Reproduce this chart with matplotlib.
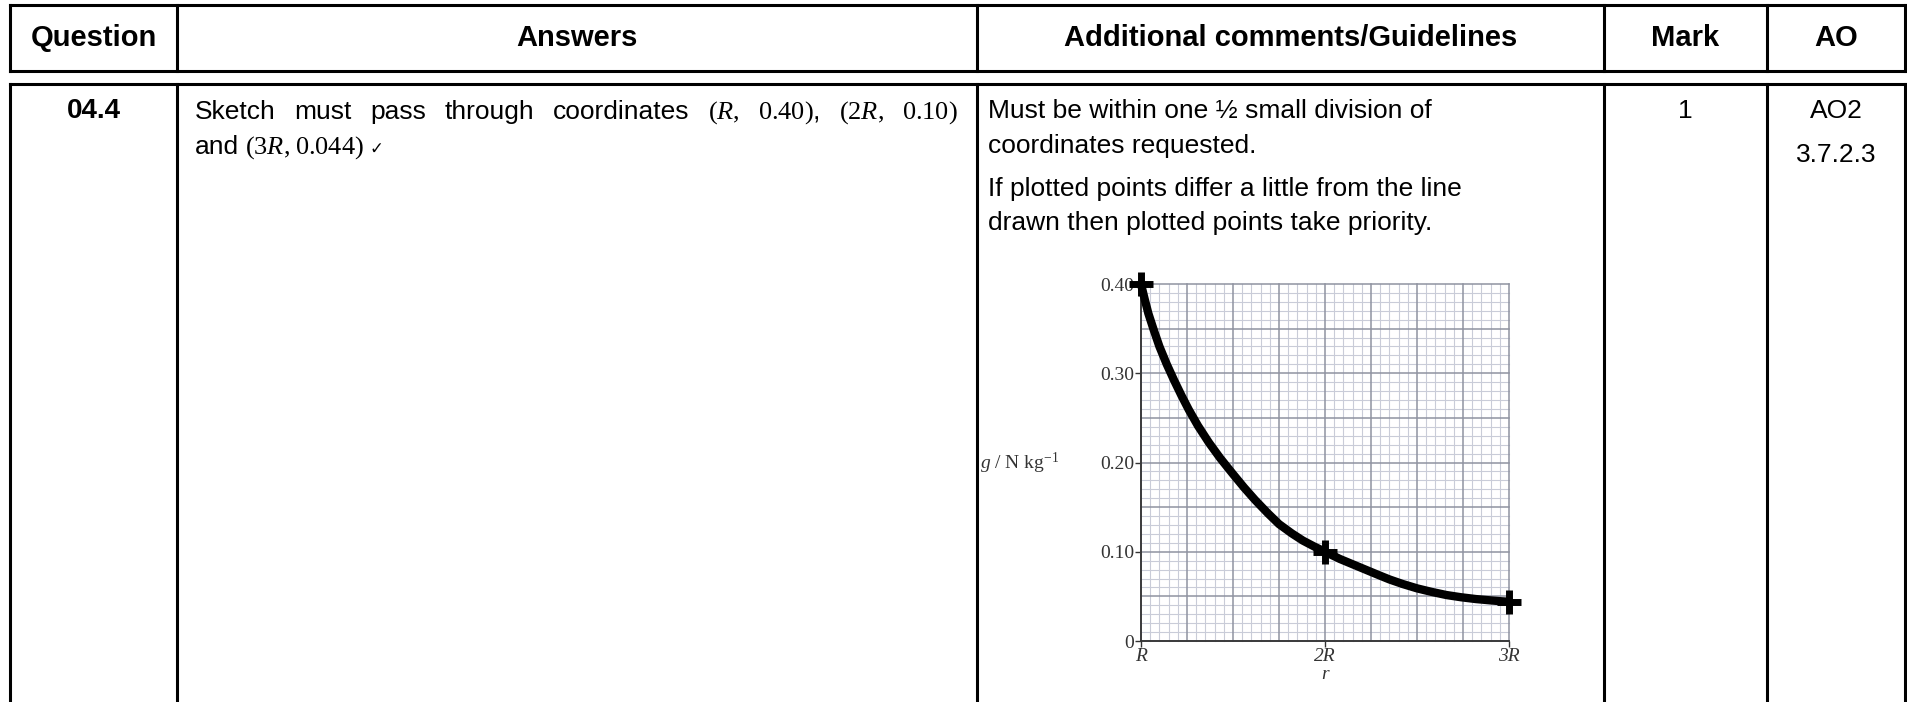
import matplotlib
matplotlib.use("Agg")
import matplotlib.pyplot as plt
from matplotlib.lines import Line2D
import numpy as np

FIG_W, FIG_H = 1908, 702
SANS = "Liberation Sans"
SERIF = "Liberation Serif"
BODY_SIZE = 19
HEAD_SIZE = 21
GRAPH_SIZE = 14
CHECK = "\u2713"

# table content
HEADERS = ["Question", "Answers", "Additional comments/Guidelines", "Mark", "AO"]
QUESTION = "04.4"
ANSWER_LINE_1 = ["Sketch", "must", "pass", "through", "coordinates",
                 r"$(R,$", r"$0.40)$,", r"$(2R,$", r"$0.10)$"]
ANSWER_LINE_2 = ["and", r"$(3R,$", r"$0.044)$", CHECK]
COMMENT_LINES = ["Must be within one \u00bd small division of",
                 "coordinates requested.",
                 "If plotted points differ a little from the line",
                 "drawn then plotted points take priority."]
MARK = "1"
AO_LINES = ["AO2", "3.7.2.3"]

# sketch (r in units of R, g in N/kg)
r_curve = [1.00, 1.02, 1.04, 1.07, 1.10, 1.14, 1.18, 1.22, 1.26, 1.31, 1.37, 1.43,
           1.50, 1.56, 1.62, 1.69, 1.75, 1.82, 1.88, 1.94, 2.00, 2.08, 2.15, 2.22,
           2.29, 2.35, 2.42, 2.50, 2.58, 2.66, 2.74, 2.82, 2.90, 2.96, 3.00]
g_curve = [0.400, 0.383, 0.367, 0.348, 0.330, 0.310, 0.292, 0.275, 0.259, 0.241, 0.222, 0.205,
           0.187, 0.172, 0.158, 0.143, 0.131, 0.1205, 0.1125, 0.106, 0.100, 0.092, 0.086, 0.080,
           0.074, 0.069, 0.064, 0.059, 0.055, 0.0515, 0.049, 0.047, 0.0455, 0.0445, 0.044]
r_points = [1, 2, 3]
g_points = [0.40, 0.10, 0.044]
y_ticks = [0, 0.10, 0.20, 0.30, 0.40]
y_tick_labels = ["0", "0.10", "0.20", "0.30", "0.40"]
x_ticks = [1, 2, 3]
x_tick_labels = ["R", "2R", "3R"]

plt.rcParams["mathtext.fontset"] = "custom"
plt.rcParams["mathtext.rm"] = SERIF
plt.rcParams["mathtext.it"] = SERIF + ":italic"
plt.rcParams["mathtext.bf"] = SERIF + ":bold"


def fx(x):
    return x / FIG_W


def fy(y):
    return 1 - y / FIG_H


def table_line(fig, x0, y0, x1, y1):
    fig.add_artist(Line2D([fx(x0), fx(x1)], [fy(y0), fy(y1)], transform=fig.transFigure,
                          color="black", lw=2.2, solid_capstyle="projecting"))


def place_words(fig, words, x_start, y_base, x_end=None, gap=6.0):
    # words laid out on one baseline; stretched to x_end when given (justified line)
    renderer = fig.canvas.get_renderer()
    items = []
    for word in words:
        if word == CHECK:
            items.append(fig.text(0, fy(y_base), word, family="DejaVu Sans", size=12,
                                  ha="left", va="baseline"))
        else:
            items.append(fig.text(0, fy(y_base), word, family=SANS, size=BODY_SIZE,
                                  ha="left", va="baseline"))
    widths = [t.get_window_extent(renderer).width for t in items]
    if x_end is not None:
        gap = (x_end - x_start - sum(widths)) / (len(words) - 1)
    x = x_start
    for t, w in zip(items, widths):
        t.set_x(fx(x))
        x += w + gap
    return items


fig = plt.figure(figsize=(FIG_W / 100, FIG_H / 100), dpi=100)

# table frame
COL_X = [10, 177, 977, 1604, 1767, 1905]
HEAD_TOP, HEAD_BOTTOM, BODY_TOP, BODY_BOTTOM = 5, 71, 84, 710
for y in (HEAD_TOP, HEAD_BOTTOM, BODY_TOP):
    table_line(fig, COL_X[0], y, COL_X[-1], y)
for x in COL_X:
    table_line(fig, x, HEAD_TOP, x, HEAD_BOTTOM)
    table_line(fig, x, BODY_TOP, x, BODY_BOTTOM)

for i, header in enumerate(HEADERS):
    fig.text(fx((COL_X[i] + COL_X[i + 1]) / 2), fy(38), header, family=SANS, weight="bold",
             size=HEAD_SIZE, ha="center", va="center")

fig.text(fx((COL_X[0] + COL_X[1]) / 2), fy(111), QUESTION, family=SANS, weight="bold",
         size=20, ha="center", va="center")

place_words(fig, ANSWER_LINE_1, 195, 119, x_end=958)
place_words(fig, ANSWER_LINE_2, 195, 154, gap=5.5)

for y, line in zip([111, 146, 189, 223], COMMENT_LINES):
    fig.text(fx(988), fy(y), line, family=SANS, size=BODY_SIZE, ha="left", va="center")

fig.text(fx((COL_X[3] + COL_X[4]) / 2), fy(111), MARK, family=SANS, size=BODY_SIZE,
         ha="center", va="center")
for y, line in zip([111, 155], AO_LINES):
    fig.text(fx((COL_X[4] + COL_X[5]) / 2), fy(y), line, family=SANS, size=BODY_SIZE,
             ha="center", va="center")

# graph
AX_L, AX_R, AX_T, AX_B = 1141, 1509, 284, 641
ax = fig.add_axes([fx(AX_L), fy(AX_B), (AX_R - AX_L) / FIG_W, (AX_B - AX_T) / FIG_H])
ax.set_xlim(1, 3)
ax.set_ylim(0, 0.40)

MINOR_GRID = "#c9ccd8"
MAJOR_GRID = "#8f93a1"
for xv in np.arange(1, 3.0001, 0.05):
    major = abs(xv / 0.25 - round(xv / 0.25)) < 1e-6
    ax.axvline(xv, color=MAJOR_GRID if major else MINOR_GRID, lw=1.1 if major else 0.8,
               zorder=2 if major else 1, clip_on=False)
for yv in np.arange(0, 0.4001, 0.01):
    major = abs(yv / 0.05 - round(yv / 0.05)) < 1e-6
    ax.axhline(yv, color=MAJOR_GRID if major else MINOR_GRID, lw=1.1 if major else 0.8,
               zorder=2 if major else 1, clip_on=False)

ax.plot(r_curve, g_curve, color="black", lw=6, solid_joinstyle="round",
        solid_capstyle="butt", zorder=5, clip_on=False)
ax.plot(r_points, g_points, ls="none", marker="+", ms=17, mew=5, color="black",
        zorder=6, clip_on=False)

for side in ("top", "right"):
    ax.spines[side].set_visible(False)
for side in ("left", "bottom"):
    ax.spines[side].set_color("#333333")
    ax.spines[side].set_linewidth(1.3)
    ax.spines[side].set_zorder(3)

ax.set_yticks(y_ticks)
ax.set_yticklabels(y_tick_labels, family=SERIF, size=GRAPH_SIZE, color="#333333")
ax.set_xticks(x_ticks)
ax.set_xticklabels(x_tick_labels, family=SERIF, style="italic", size=GRAPH_SIZE,
                   color="#333333")
ax.tick_params(length=4, width=1, color="#333333", pad=1)
ax.set_xlabel("r", family=SERIF, style="italic", size=GRAPH_SIZE, color="#333333",
              labelpad=1)

fig.text(fx(1020), fy(463), r"$g$ / N kg$^{-1}$", family=SERIF, size=GRAPH_SIZE,
         color="#333333", ha="center", va="center")

fig.savefig("out.png", dpi=100)
